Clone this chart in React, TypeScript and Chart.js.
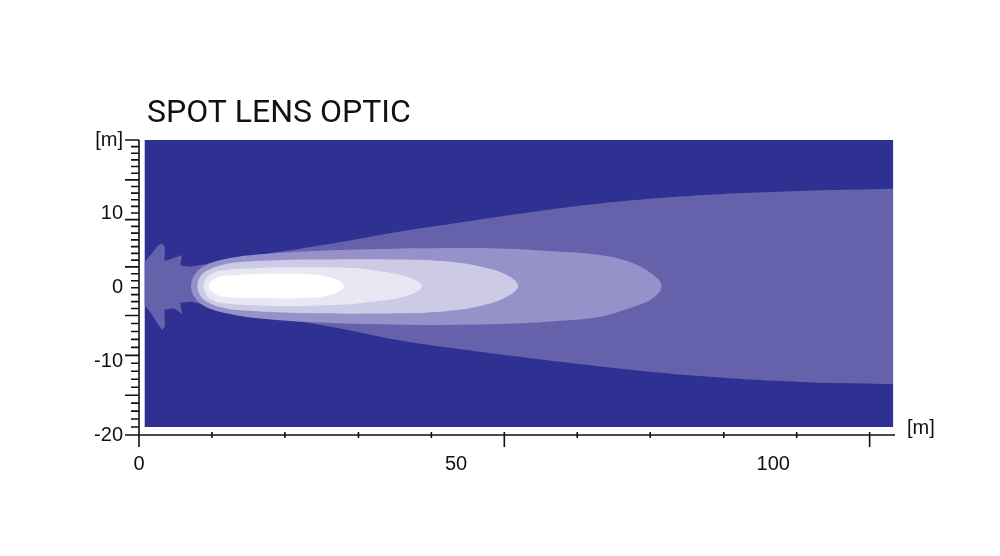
import React, { useEffect, useRef } from 'react';
import { Chart, registerables } from 'chart.js';

Chart.register(...registerables);

// ---- text ----
const chartTitle = 'SPOT LENS OPTIC';
const xUnitLabel = '[m]';

// ---- axes ----
const xMin = 0;
const xMax = 119.2;
const yMin = -20;
const yMax = 20;
const xLabelValues = [0, 50, 100];
const yLabelValues = [-20, -10, 0, 10, 20];
const yLabelTexts = ['-20', '-10', '0', '10', '[m]'];
const xTickMarks = [0, 11.5, 23.0, 34.6, 46.1, 57.6, 69.1, 80.6, 92.2, 103.7, 115.2];
const xLongMarks = [0, 57.6, 115.2];
const yMajorMarks = [20, 14.6, 9.2, 2.8, -3.8, -9.2, -14.6, -20];
const yMinorCounts = [6, 6, 7, 7, 5, 5, 5];

// ---- isolux contours (x in m, y in m) ----
const isoluxArea: number[][] = [[0.9, -18.9], [118.9, -18.9], [118.9, 20], [0.9, 20]];

// spiky near-field part of the outer beam
const spikesTop: number[][] = [
  [0.9, 3.5], [2.0, 4.6], [3.0, 5.7], [3.6, 6.0], [4.1, 5.5], [4.0, 3.6], [5.5, 4.0], [6.8, 4.4], [6.5, 3.0], [8.1, 2.8], [9.5, 3.0],
];
const spikesBottom: number[][] = [
  [0.9, -2.4], [2.0, -3.6], [3.0, -5.0], [3.7, -5.8], [4.1, -5.2], [4.0, -3.0], [5.5, -2.8], [6.8, -3.6], [6.5, -2.1], [8.1, -1.9], [9.5, -2.1],
];

// outer beam cone edges
const coneTop: number[][] = [
  [8.1, 2.8], [16, 4.0], [30, 5.9], [41.2, 7.6], [47.5, 8.4], [60, 10.0], [72.7, 11.4], [88.4, 12.5], [104.2, 13.1], [118.9, 13.4],
];
const coneBottom: number[][] = [
  [8.1, -1.9], [16, -3.3], [30, -5.3], [41.2, -7.2], [47.5, -8.0], [60, -9.4], [72.7, -10.7], [88.4, -12.0], [104.2, -12.8], [118.9, -13.1],
];

const zone2Top: number[][] = [
  [8.2, 0.2], [8.9, 1.9], [10.5, 3.0], [13.6, 3.85], [19.1, 4.5], [28.6, 5.0], [41.2, 5.3], [56.9, 5.3], [66.4, 4.85], [72.7, 4.4], [77.9, 3.3], [81.1, 1.7], [82.4, 0.2],
];
const zone2Bottom: number[][] = [
  [8.9, -1.5], [10.5, -2.6], [13.6, -3.45], [19.1, -4.2], [28.6, -4.75], [41.2, -5.05], [56.9, -4.95], [66.4, -4.5], [72.7, -3.95], [77.9, -2.65], [81.1, -1.4],
];

const zone3Top: number[][] = [
  [9.2, 0.2], [9.7, 1.55], [10.8, 2.35], [12.8, 3.0], [16.0, 3.45], [25.4, 3.8], [41.2, 3.8], [49.1, 3.5], [54.3, 2.75], [58.0, 1.7], [59.8, 0.2],
];
const zone3Bottom: number[][] = [
  [9.7, -1.15], [10.8, -1.95], [12.8, -2.65], [16.0, -3.1], [25.4, -3.45], [41.2, -3.5], [49.1, -3.15], [54.3, -2.4], [58.0, -1.25],
];

const zone4Top: number[][] = [
  [10.2, 0.2], [10.6, 1.3], [11.6, 1.95], [13.3, 2.35], [21.2, 2.75], [31.7, 2.7], [36.9, 2.35], [42.2, 1.45], [44.6, 0.2],
];
const zone4Bottom: number[][] = [
  [10.6, -1.0], [11.6, -1.7], [13.3, -2.15], [21.2, -2.5], [31.7, -2.35], [36.9, -1.9], [42.2, -1.15],
];

const zone5Top: number[][] = [
  [11.0, 0.2], [11.6, 1.0], [13.3, 1.55], [21.2, 1.9], [26.5, 1.8], [30.6, 1.25], [32.3, 0.2],
];
const zone5Bottom: number[][] = [
  [11.6, -0.6], [13.3, -1.25], [21.2, -1.45], [26.5, -1.4], [30.6, -0.9],
];

// ---- colours ----
const colArea = '#2e3192';
const colBeam = '#6561ab';
const colZone2 = '#9691c8';
const colZone3 = '#cccae5';
const colZone4 = '#e8e7f4';
const colZone5 = '#ffffff';
const inkColor = '#111111';

const toPts = (arr: number[][]) => arr.map(([x, y]) => ({ x, y }));

function polygon(top: number[][], bottom: number[][]) {
  return toPts([...top, ...bottom.slice().reverse()]);
}

function smoothRing(top: number[][], bottom: number[][]) {
  const loop = [...top, ...bottom.slice().reverse()];
  const k = Math.floor(top.length / 2);
  const seq = [...loop.slice(k), ...loop.slice(0, k), loop[k]];
  return toPts(seq);
}

const decorPlugin = {
  id: 'decor',
  afterDraw(chart: any) {
    const { ctx, chartArea, scales } = chart;
    const xs = scales.x;
    const ys = scales.y;
    const left = chartArea.left;
    const bottom = chartArea.bottom;
    ctx.save();
    ctx.strokeStyle = inkColor;
    ctx.lineWidth = 1.6;
    ctx.beginPath();
    ctx.moveTo(left, chartArea.top);
    ctx.lineTo(left, bottom);
    ctx.moveTo(left, bottom);
    ctx.lineTo(chartArea.right, bottom);
    // y tick marks
    for (let i = 0; i < yMajorMarks.length; i++) {
      const py = ys.getPixelForValue(yMajorMarks[i]);
      ctx.moveTo(left - 14, py);
      ctx.lineTo(left, py);
      if (i < yMinorCounts.length) {
        const n = yMinorCounts[i];
        const a = yMajorMarks[i];
        const b = yMajorMarks[i + 1];
        for (let j = 1; j < n; j++) {
          const v = a + ((b - a) * j) / n;
          const p = ys.getPixelForValue(v);
          ctx.moveTo(left - 8, p);
          ctx.lineTo(left, p);
        }
      }
    }
    // x tick marks
    for (const v of xTickMarks) {
      const px = xs.getPixelForValue(v);
      const long = xLongMarks.includes(v);
      ctx.moveTo(px, bottom - 3);
      ctx.lineTo(px, bottom + (long ? 12 : 3));
    }
    ctx.stroke();

    ctx.fillStyle = inkColor;
    ctx.textAlign = 'left';
    ctx.textBaseline = 'alphabetic';
    ctx.font = '32px Roboto';
    ctx.fillText(chartTitle, left + 8, chartArea.top - 18);
    ctx.font = '20px "Liberation Sans", Arial, sans-serif';
    ctx.fillText(xUnitLabel, chartArea.right + 12, bottom - 1);
    ctx.restore();
  },
};

export default function App() {
  const canvasRef = useRef<HTMLCanvasElement | null>(null);

  useEffect(() => {
    const canvas = canvasRef.current;
    if (!canvas) return;
    Chart.defaults.font.family = '"Liberation Sans", Arial, sans-serif';
    Chart.defaults.color = inkColor;

    const mk = (label: string, data: any[], color: string, order: number, tension: number, fill: any) => ({
      label,
      data,
      showLine: true,
      fill,
      backgroundColor: color,
      borderColor: color,
      borderWidth: 0,
      pointRadius: 0,
      pointHoverRadius: 0,
      tension,
      order,
    });

    const chart = new Chart(canvas, {
      type: 'scatter',
      data: {
        datasets: [
          mk('zone5', smoothRing(zone5Top, zone5Bottom), colZone5, 1, 0.4, 'shape'),
          mk('zone4', smoothRing(zone4Top, zone4Bottom), colZone4, 2, 0.4, 'shape'),
          mk('zone3', smoothRing(zone3Top, zone3Bottom), colZone3, 3, 0.4, 'shape'),
          mk('zone2', smoothRing(zone2Top, zone2Bottom), colZone2, 4, 0.4, 'shape'),
          mk('beam spikes', polygon(spikesTop, spikesBottom), colBeam, 5, 0, 'shape'),
          mk('beam top', toPts(coneTop), colBeam, 5, 0.4, '+1'),
          mk('beam bottom', toPts(coneBottom), colBeam, 5, 0.4, false),
          mk('area', toPts(isoluxArea), colArea, 6, 0, 'shape'),
        ] as any,
      },
      options: {
        responsive: false,
        animation: false,
        events: [],
        layout: { padding: { top: 140, right: 105, left: 0, bottom: 0 } },
        plugins: {
          legend: { display: false },
          tooltip: { enabled: false },
          title: { display: false },
        },
        scales: {
          x: {
            type: 'linear',
            min: xMin,
            max: xMax,
            grid: { display: false, drawTicks: false },
            border: { display: false },
            afterBuildTicks: (s: any) => {
              s.ticks = xLabelValues.map((v) => ({ value: v }));
            },
            afterFit: (s: any) => {
              s.height = 121;
            },
            ticks: {
              padding: 17,
              font: { size: 20 },
              color: inkColor,
              maxRotation: 0,
              callback: (v: any) => String(v),
            },
          },
          y: {
            type: 'linear',
            min: yMin,
            max: yMax,
            grid: { display: false, drawTicks: false },
            border: { display: false },
            afterBuildTicks: (s: any) => {
              s.ticks = yLabelValues.map((v) => ({ value: v }));
            },
            afterFit: (s: any) => {
              s.width = 139;
            },
            ticks: {
              padding: 16,
              font: { size: 20 },
              color: inkColor,
              callback: (v: any) => {
                const i = yLabelValues.indexOf(Number(v));
                return i >= 0 ? yLabelTexts[i] : '';
              },
            },
          },
        },
      } as any,
      plugins: [decorPlugin],
    });
    return () => chart.destroy();
  }, []);

  return (
    <div style={{ position: 'absolute', left: 0, top: 0, width: 1000, height: 556, background: '#ffffff' }}>
      <canvas ref={canvasRef} width={1000} height={556} style={{ display: 'block' }} />
    </div>
  );
}
